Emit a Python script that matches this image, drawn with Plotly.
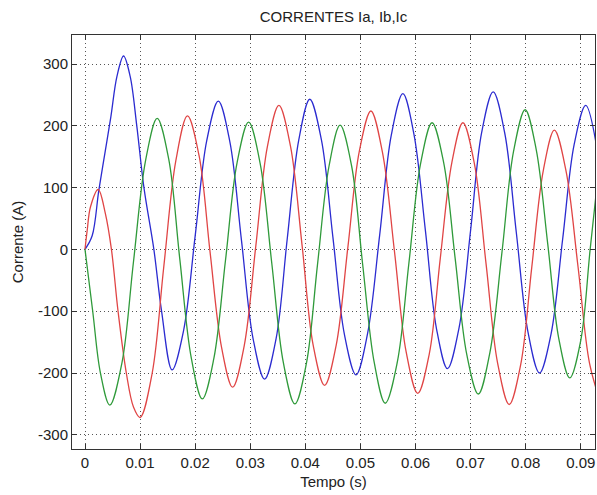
import plotly.graph_objects as go

# ---- data ----
t_ia = [0.0000, 0.0013, 0.0025, 0.0036, 0.0047, 0.0058, 0.0070, 0.0082, 0.0094, 0.0107,
        0.0125, 0.0139, 0.0158, 0.0179, 0.0200, 0.0221, 0.0242, 0.0263, 0.0284, 0.0305,
        0.0326, 0.0347, 0.0367, 0.0388, 0.0408, 0.0429, 0.0450, 0.0471, 0.0492, 0.0513,
        0.0535, 0.0556, 0.0577, 0.0597, 0.0618, 0.0638, 0.0658, 0.0679, 0.0700, 0.0720,
        0.0741, 0.0762, 0.0783, 0.0804, 0.0825, 0.0846, 0.0867, 0.0888, 0.0909, 0.0930]
i_ia = [0, 22, 95, 155, 215, 280, 313, 280, 200, 100,
        0, -100, -195, -131, 22, 176, 240, 174, 15, -144,
        -210, -144, 16, 177, 243, 178, 20, -138, -203, -136,
        24, 185, 252, 187, 30, -128, -193, -127, 31, 189,
        255, 188, 27, -133, -200, -137, 16, 170, 233, 160]

t_ib = [0.0000, 0.0004, 0.0010, 0.0024, 0.0037, 0.0048, 0.0060, 0.0075, 0.0088, 0.0100,
        0.0122, 0.0143, 0.0165, 0.0186, 0.0207, 0.0227, 0.0248, 0.0268, 0.0289, 0.0310,
        0.0331, 0.0352, 0.0373, 0.0394, 0.0414, 0.0435, 0.0456, 0.0477, 0.0498, 0.0519,
        0.0540, 0.0562, 0.0583, 0.0604, 0.0625, 0.0645, 0.0666, 0.0686, 0.0707, 0.0728,
        0.0749, 0.0770, 0.0791, 0.0811, 0.0832, 0.0852, 0.0873, 0.0895, 0.0916, 0.0937]
i_ib = [0, 31, 69, 97, 58, 0, -100, -200, -255, -272,
        -200, -28, 144, 216, 152, -4, -159, -223, -156, 5,
        166, 233, 167, 7, -154, -220, -155, 2, 159, 224,
        157, -5, -166, -233, -169, -14, 141, 205, 138, -23,
        -184, -251, -186, -29, 128, 193, 128, -28, -185, -250]

t_ic = [0.0000, 0.0014, 0.0028, 0.0045, 0.0067, 0.0088, 0.0110, 0.0131, 0.0152, 0.0172,
        0.0193, 0.0213, 0.0234, 0.0255, 0.0276, 0.0297, 0.0318, 0.0339, 0.0360, 0.0381,
        0.0402, 0.0422, 0.0443, 0.0463, 0.0484, 0.0504, 0.0525, 0.0545, 0.0567, 0.0588,
        0.0609, 0.0630, 0.0651, 0.0672, 0.0693, 0.0714, 0.0735, 0.0757, 0.0778, 0.0799,
        0.0819, 0.0840, 0.0860, 0.0880, 0.0900, 0.0917, 0.0935]
i_ic = [0, -100, -200, -252, -184, -20, 144, 212, 146, -15,
        -176, -242, -176, -18, 140, 206, 139, -22, -183, -250,
        -184, -25, 135, 201, 135, -24, -183, -249, -182, -22,
        138, 205, 141, -15, -170, -234, -167, -4, 159, 226,
        162, 9, -144, -208, -147, 0, 150]

x_tickvals = [0, 0.01, 0.02, 0.03, 0.04, 0.05, 0.06, 0.07, 0.08, 0.09]
x_ticktext = ["0", "0.01", "0.02", "0.03", "0.04", "0.05", "0.06", "0.07", "0.08", "0.09"]
y_tickvals = [-300, -200, -100, 0, 100, 200, 300]
y_ticktext = ["-300", "-200", "-100", "0", "100", "200", "300"]

fig = go.Figure()
for t, v, col, name in [(t_ia, i_ia, "#2b2bd0", "Ia"),
                        (t_ib, i_ib, "#e04545", "Ib"),
                        (t_ic, i_ic, "#2f9a3a", "Ic")]:
    fig.add_trace(go.Scatter(x=t, y=v, mode="lines", name=name,
                             line=dict(color=col, width=1.3, shape="spline", smoothing=1.0)))

axis_common = dict(showline=True, linecolor="#333333", linewidth=1, mirror="ticks",
                   ticks="inside", ticklen=5, tickcolor="#333333",
                   showgrid=True, gridcolor="#555555", gridwidth=1, griddash="1px,3px",
                   zeroline=False, tickfont=dict(size=15, color="#222222"))

fig.update_xaxes(range=[-0.00236, 0.09258], tickvals=x_tickvals, ticktext=x_ticktext,
                 title=dict(text="Tempo (s)", standoff=6, font=dict(size=15, color="#222222")),
                 **axis_common)
fig.update_yaxes(range=[-323, 347], tickvals=y_tickvals, ticktext=y_ticktext,
                 title=dict(text="Corrente (A)", standoff=10, font=dict(size=15, color="#222222")),
                 **axis_common)

fig.update_layout(width=597, height=495, margin=dict(l=72, r=2, t=35, b=46),
                  paper_bgcolor="white", plot_bgcolor="white", showlegend=False,
                  font=dict(family="Liberation Sans, Arial, sans-serif", size=15, color="#222222"),
                  title=dict(text="CORRENTES Ia, Ib,Ic", x=0.5, xref="paper", xanchor="center",
                             y=1 - 17 / 495, yref="container", yanchor="middle",
                             font=dict(size=15, color="#222222")))

fig.write_html("out.html")
